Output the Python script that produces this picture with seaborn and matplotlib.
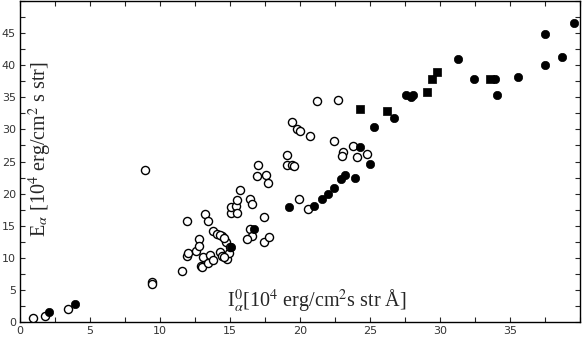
import numpy as np
import pandas as pd
import matplotlib
matplotlib.use("Agg")
import matplotlib.pyplot as plt
import seaborn as sns
from matplotlib.ticker import MultipleLocator

# open circles
open_x = [0.9, 1.8, 3.4, 9.4, 9.4, 8.9, 11.9, 11.6, 11.9, 12.0, 12.6, 12.8, 12.8, 12.9,
          13.0, 13.1, 13.4, 13.6, 13.8, 13.2, 13.4, 13.8, 14.1, 14.4, 14.7, 14.3, 14.4,
          14.8, 14.9, 15.0, 14.6, 14.3, 14.6, 15.1, 15.1, 15.4, 15.5, 15.7, 15.5, 16.4,
          16.6, 17.4, 16.4, 16.6, 16.2, 17.4, 17.8, 17.0, 16.9, 17.6, 17.7, 19.1, 19.1,
          19.4, 19.6, 19.9, 21.2, 22.7, 19.4, 19.8, 20.0, 20.7, 22.4, 23.8, 23.1, 23.0,
          24.1, 24.8, 20.6]
open_y = [0.6, 1.0, 2.0, 6.2, 5.9, 23.6, 15.7, 8.0, 10.3, 10.8, 11.1, 12.9, 11.9, 8.7,
          8.6, 10.1, 9.2, 10.5, 9.7, 16.8, 15.7, 14.2, 13.7, 13.4, 12.5, 10.9, 10.3,
          9.8, 10.8, 11.7, 10.2, 13.6, 13.1, 17.0, 17.9, 18.1, 19.0, 20.6, 17.0, 19.2,
          18.4, 16.4, 14.5, 13.4, 12.9, 12.4, 13.2, 24.4, 22.7, 22.9, 21.7, 26.0, 24.5,
          24.4, 24.3, 19.2, 34.5, 34.6, 31.2, 30.0, 29.8, 28.9, 28.2, 27.4, 26.5, 25.9,
          25.7, 26.2, 17.6]

# filled circles
filled_x = [2.1, 3.9, 15.1, 16.7, 19.2, 21.0, 21.6, 22.0, 22.4, 22.9, 23.2, 23.9, 24.3,
            25.0, 25.3, 26.7, 27.6, 27.9, 28.1, 31.3, 32.4, 33.9, 34.1, 35.6, 37.5, 37.5,
            38.7, 39.6]
filled_y = [1.6, 2.8, 11.7, 14.5, 17.9, 18.1, 19.2, 20.0, 20.9, 22.3, 22.9, 22.5, 27.2,
            24.6, 30.3, 31.7, 35.3, 35.1, 35.3, 40.9, 37.8, 37.9, 35.4, 38.2, 44.8, 40.1,
            41.2, 46.6]

# filled squares
square_x = [24.3, 26.2, 29.1, 29.4, 29.8, 33.6]
square_y = [33.2, 32.8, 35.8, 37.8, 39.0, 37.8]

sns.set_style("ticks")
plt.rcParams['mathtext.fontset'] = 'stix'

fig = plt.figure(figsize=(5.82, 3.39), dpi=100)
ax = fig.add_axes([20 / 582, 17 / 339, 560 / 582, 321 / 339])

df_open = pd.DataFrame({'x': open_x, 'y': open_y})
df_filled = pd.DataFrame({'x': filled_x, 'y': filled_y})
df_square = pd.DataFrame({'x': square_x, 'y': square_y})

sns.scatterplot(data=df_open, x='x', y='y', marker='o', s=34, facecolor='white',
                edgecolor='black', linewidth=1.0, ax=ax, zorder=3)
sns.scatterplot(data=df_filled, x='x', y='y', marker='o', s=36, color='black',
                edgecolor='black', linewidth=0.5, ax=ax, zorder=4)
sns.scatterplot(data=df_square, x='x', y='y', marker='s', s=34, color='black',
                edgecolor='black', linewidth=0.5, ax=ax, zorder=4)

ax.set_xlim(0, 40)
ax.set_ylim(0, 50)
ax.xaxis.set_major_locator(MultipleLocator(5))
ax.xaxis.set_minor_locator(MultipleLocator(2.5))
ax.yaxis.set_major_locator(MultipleLocator(5))
ax.yaxis.set_minor_locator(MultipleLocator(2.5))
ax.set_xticks([0, 5, 10, 15, 20, 25, 30, 35])
ax.set_yticks([0, 5, 10, 15, 20, 25, 30, 35, 40, 45])
ax.tick_params(which='both', direction='in', top=True, right=True, length=3.5,
               width=0.8, labelsize=8, labelcolor='#333333', pad=3)
for sp in ax.spines.values():
    sp.set_linewidth(1.0)
    sp.set_color('black')
ax.set_xlabel('')
ax.set_ylabel('')

ax.text(0.036, 0.54, r'E$_{\alpha}$ [10$^4$ erg/cm$^2$ s str]', transform=ax.transAxes,
        rotation=90, ha='center', va='center', fontsize=14.5, family='Liberation Serif')
ax.text(0.53, 0.068, r'I$_{\alpha}^{0}$[10$^4$ erg/cm$^2$s str Å]', transform=ax.transAxes,
        ha='center', va='center', fontsize=14.5, family='Liberation Serif')

fig.savefig('out.png', dpi=100)
